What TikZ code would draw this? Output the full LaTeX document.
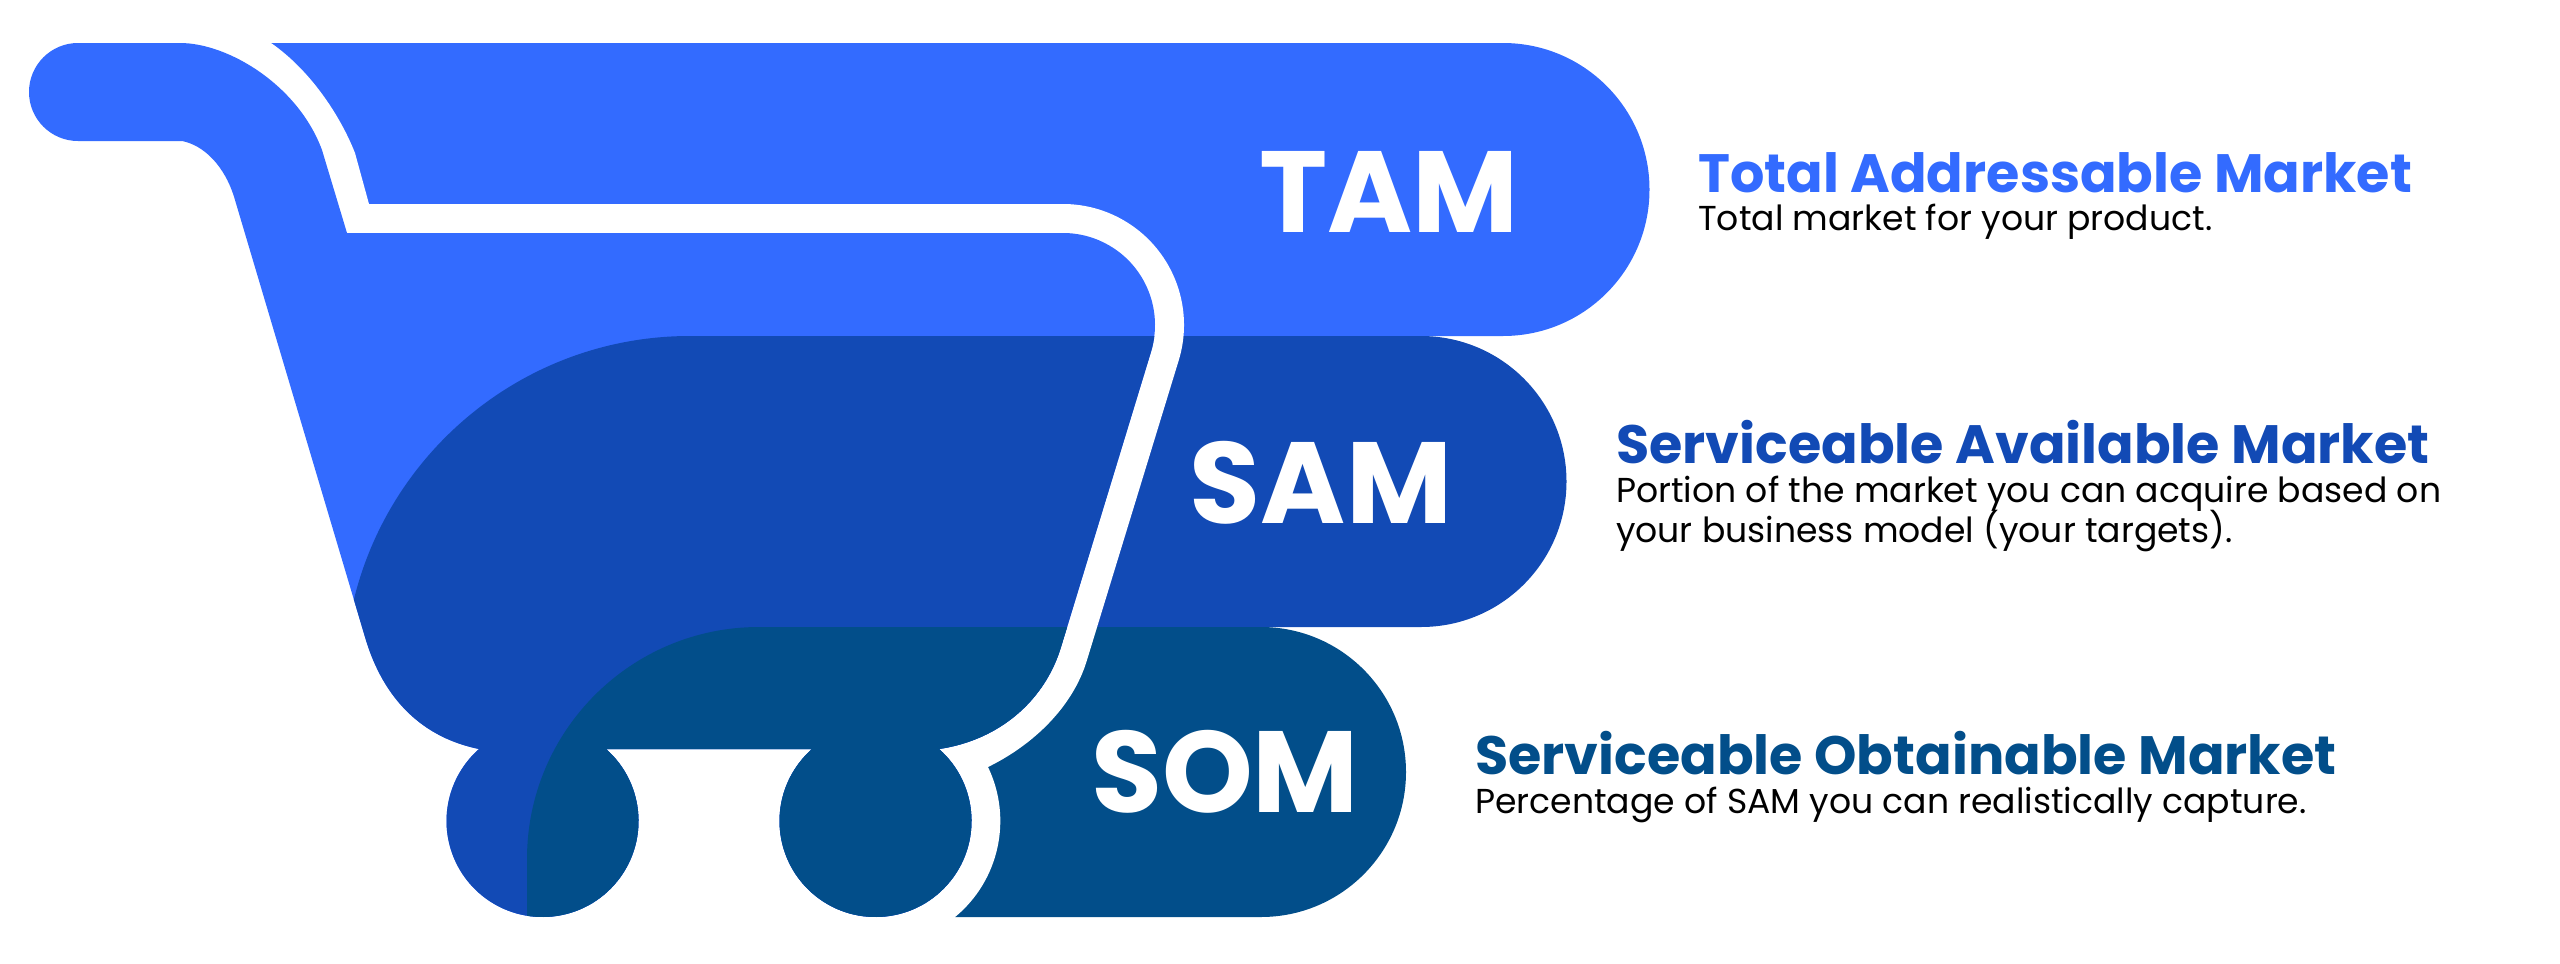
\documentclass[tikz,border=0pt]{standalone}
\usepackage{fontspec}
\setmainfont{Poppins}
\definecolor{tamc}{RGB}{51,107,255}
\definecolor{samc}{RGB}{18,74,181}
\definecolor{somc}{RGB}{2,78,138}
\tikzset{
  abbr/.style={text=white,font=\fontsize{115.5}{115.5}\selectfont\bfseries,anchor=base,inner sep=0pt},
  ttl/.style={font=\fontsize{54}{54}\selectfont\bfseries,anchor=base west,inner sep=0pt},
  dsc/.style={text=black,font=\fontsize{34.6}{34.6}\selectfont,anchor=base west,inner sep=0pt}
}
\newcommand{\tampill}{(200,43) -- (1503,43) arc[start angle=-90,end angle=90,radius=146.5pt] -- (200,336) -- cycle}
\newcommand{\samtop}{(690,336) -- (1421,336) arc[start angle=-90,end angle=90,radius=145.5pt]}
\newcommand{\sompill}{(759,627) -- (1261,627) arc[start angle=-90,end angle=90,radius=145pt] -- (527,917) -- (527,859) arc[start angle=180,end angle=270,radius=232pt] -- cycle}
\newcommand{\cartpath}{(78,43) -- (180,43) .. controls (228,43) and (298,85) .. (322,150) -- (347,233) -- (1063,233)
  arc[start angle=-90,end angle=17,radius=92pt] -- (1061,647)
  .. controls (1045,700) and (1000,740) .. (939,749)
  arc[start angle=-48.6,end angle=228.6,radius=96pt] -- (606,749)
  arc[start angle=-48.6,end angle=228.6,radius=96pt]
  .. controls (425,738) and (384,702) .. (365,637) -- (235,200)
  .. controls (225,165) and (203,145) .. (182,141) -- (78,141)
  arc[start angle=90,end angle=270,radius=49pt] -- cycle}
\begin{document}
\begin{tikzpicture}[x=1pt,y=1pt,yscale=-1]
\useasboundingbox (0,0) rectangle (2560,964);
% bands outside the cart
\fill[tamc] \tampill;
\fill[samc] \samtop -- (344,627) -- (344,682) arc[start angle=180,end angle=270,radius=346pt] -- cycle;
\fill[somc] \sompill;
% white outline of the cart
\fill[white] (271,43) .. controls (310,70) and (340,115) .. (355,153) -- (369,204) -- (1063,204)
  arc[start angle=-90,end angle=17,radius=121pt] -- (1087,660)
  .. controls (1073,707) and (1033,745) .. (988,767)
  arc[start angle=-25.7,end angle=50.5,radius=124.5pt] -- (956,964) -- (0,964) -- (0,0) -- (271,0) -- cycle;
% the cart itself
\begin{scope}
\clip \cartpath;
\fill[tamc] (0,0) rectangle (1300,964);
\fill[samc] (690,336) -- (1300,336) -- (1300,964) -- (344,964) -- (344,682) arc[start angle=180,end angle=270,radius=346pt] -- cycle;
\fill[somc] \sompill;
\end{scope}
\node[abbr] (tam) at (1389,232) {TAM};
\node[abbr] (sam) at (1321,523) {SAM};
\node[abbr] (som) at (1225,812) {SOM};
\node[ttl,text=tamc] (t1) at (1698,192.5) {Total Addressable Market};
\node[dsc] (d1) at (1698,230) {Total market for your product.};
\node[ttl,text=samc] (t2) at (1616,463.5) {Serviceable Available Market};
\node[dsc] (d2) at (1616,502) {Portion of the market you can acquire based on};
\node[dsc] (d3) at (1616,542) {your business model (your targets).};
\node[ttl,text=somc] (t3) at (1475,774) {Serviceable Obtainable Market};
\node[dsc] (d4) at (1475,813) {Percentage of SAM you can realistically capture.};
\end{tikzpicture}
\end{document}
